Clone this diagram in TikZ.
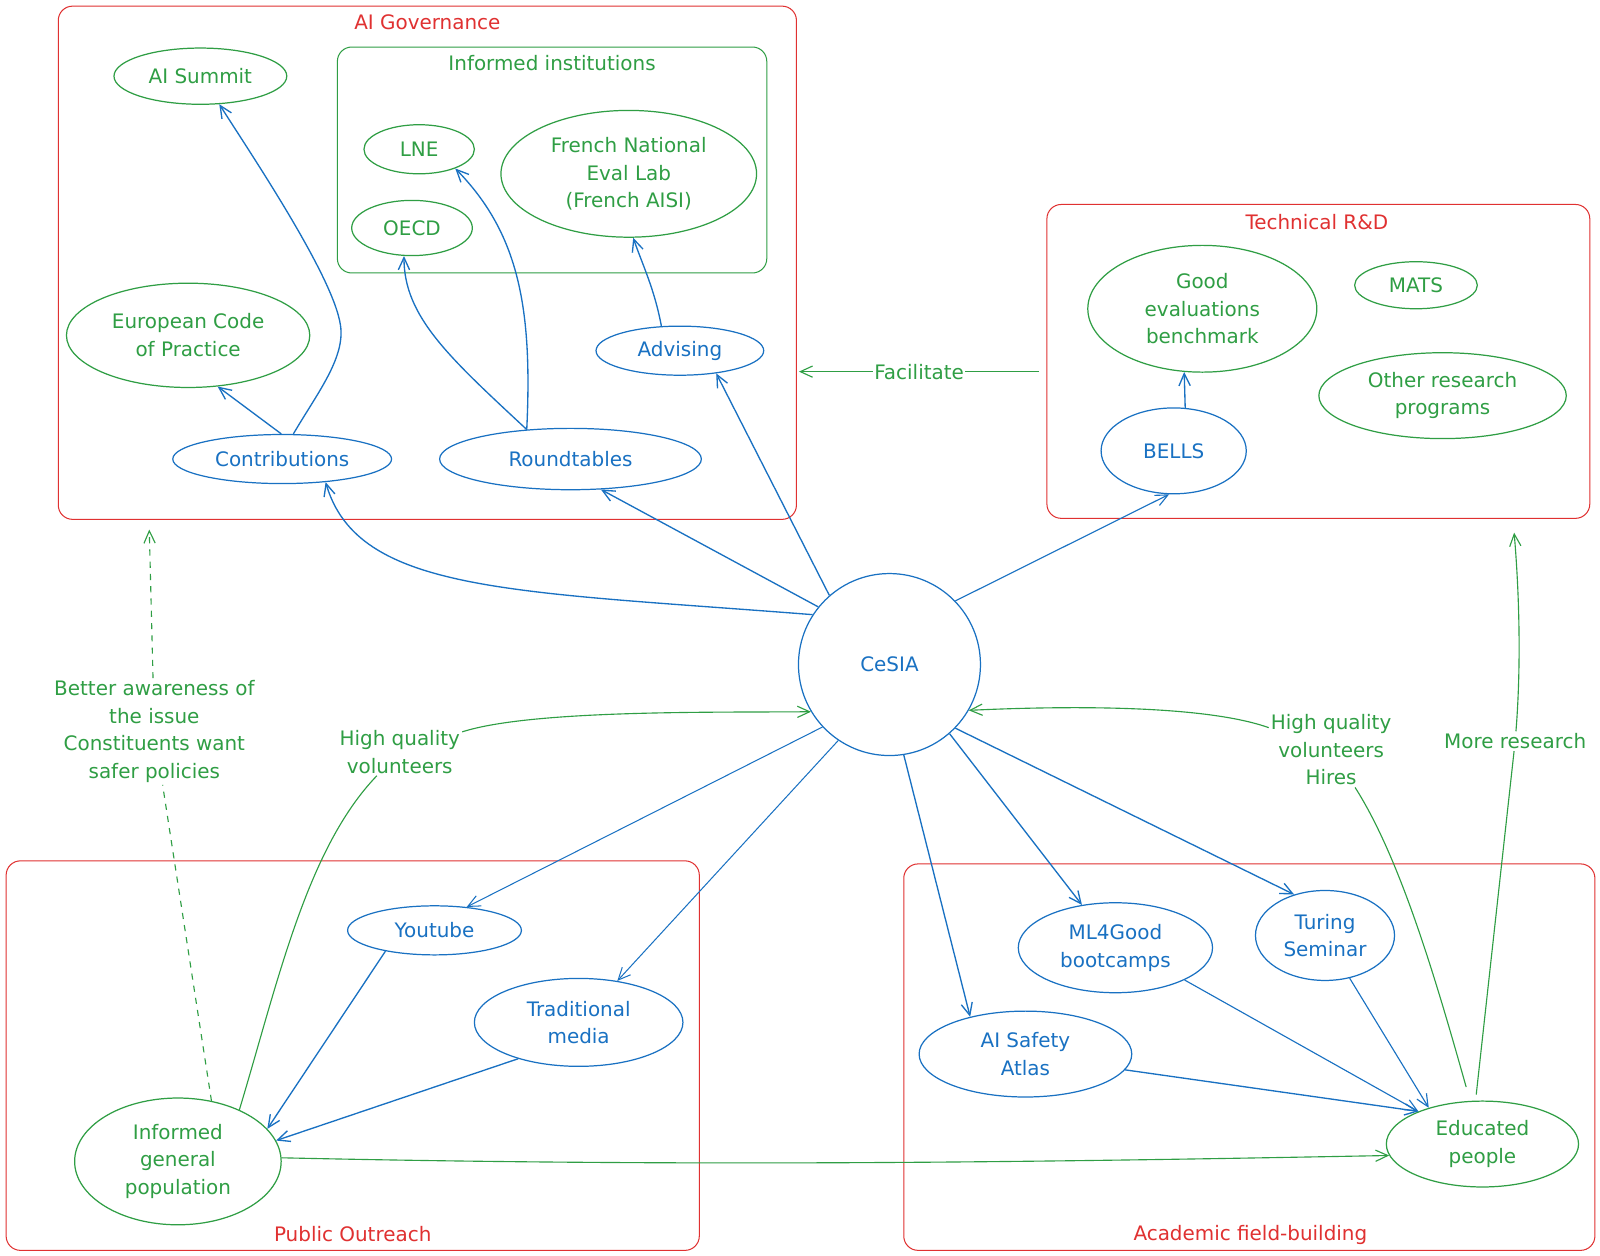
\documentclass[tikz,border=0pt]{standalone}
\usepackage{fontspec}
\setmainfont{DejaVu Sans}
\usetikzlibrary{shapes.geometric,arrows.meta,calc}
\definecolor{exred}{HTML}{E03131}
\definecolor{exgreen}{HTML}{2F9E44}
\definecolor{exblue}{HTML}{1971C2}
\begin{document}
\begin{tikzpicture}[x=1pt,y=-1pt,
  every node/.style={font=\fontsize{19.5}{27}\selectfont, align=center},
  region/.style={draw=exred, line width=1pt, rounded corners=14pt, inner sep=0pt},
  instbox/.style={draw=exgreen, line width=1pt, rounded corners=14pt, inner sep=0pt},
  regtitle/.style={text=exred, inner sep=1pt},
  gnode/.style={ellipse, draw=exgreen, text=exgreen, line width=1.2pt, inner sep=0pt},
  bnode/.style={ellipse, draw=exblue, text=exblue, line width=1.2pt, inner sep=0pt},
  glabel/.style={text=exgreen, inner sep=2pt},
  opentip/.style={-{Straight Barb[length=12pt,width=11pt]}},
  barrow/.style={draw=exblue, line width=1.3pt, opentip},
  garrow/.style={draw=exgreen, line width=1.1pt, opentip},
  gline/.style={draw=exgreen, line width=1.1pt},
  gdash/.style={draw=exgreen, line width=1.1pt, dash pattern=on 6pt off 6pt},
]
\fill[white] (0,0) rectangle (1565,1228);
\useasboundingbox (0,0) rectangle (1565,1228);

% regions
\node[region, minimum width=722, minimum height=502] (gov) at (418,257) {};
\node[regtitle] (govt) at (418,22) {AI Governance};
\node[instbox, minimum width=420, minimum height=221] (inst) at (540,156.5) {};
\node[glabel] (instt) at (540,62) {Informed institutions};
\node[region, minimum width=531, minimum height=307] (tech) at (1289.5,353.5) {};
\node[regtitle] (techt) at (1288,217) {Technical R\&D};
\node[region, minimum width=678, minimum height=381] (pub) at (345,1032.5) {};
\node[regtitle] (pubt) at (345,1207) {Public Outreach};
\node[region, minimum width=676, minimum height=378] (acad) at (1222,1034) {};
\node[regtitle] (acadt) at (1223,1208) {Academic field-building};

% AI governance nodes
\node[gnode, minimum width=169, minimum height=55] (summit) at (196,74.5) {AI Summit};
\node[gnode, minimum width=108, minimum height=48] (lne) at (410,146) {LNE};
\node[gnode, minimum width=118, minimum height=54] (oecd) at (403,223) {OECD};
\node[gnode, minimum width=250, minimum height=124] (french) at (615,170) {French National\\Eval Lab\\(French AISI)};
\node[gnode, minimum width=238, minimum height=102] (euro) at (184,328) {European Code\\of Practice};
\node[bnode, minimum width=164, minimum height=48] (adv) at (665,343) {Advising};
\node[bnode, minimum width=214, minimum height=48] (contrib) at (276,449) {Contributions};
\node[bnode, minimum width=256, minimum height=60] (round) at (558,449) {Roundtables};

% centre
\node[circle, draw=exblue, text=exblue, line width=1.2pt, minimum size=178, inner sep=0pt] (cesia) at (870,650) {CeSIA};

% technical R&D nodes
\node[gnode, minimum width=224, minimum height=124] (good) at (1176,302) {Good\\evaluations\\benchmark};
\node[gnode, minimum width=120, minimum height=46] (mats) at (1385,279) {MATS};
\node[gnode, minimum width=242, minimum height=84] (other) at (1411,387) {Other research\\programs};
\node[bnode, minimum width=142, minimum height=84] (bells) at (1148,441) {BELLS};

% public outreach nodes
\node[bnode, minimum width=170, minimum height=48] (youtube) at (425,910) {Youtube};
\node[bnode, minimum width=204, minimum height=86] (trad) at (566,1000) {Traditional\\media};
\node[gnode, minimum width=202, minimum height=124] (pop) at (174,1136) {Informed\\general\\population};

% academic nodes
\node[bnode, minimum width=190, minimum height=88] (ml4) at (1091,927) {ML4Good\\bootcamps};
\node[bnode, minimum width=136, minimum height=88] (turing) at (1296,915) {Turing\\Seminar};
\node[bnode, minimum width=208, minimum height=84] (atlas) at (1003,1031) {AI Safety\\Atlas};
\node[gnode, minimum width=188, minimum height=84] (edu) at (1450,1119) {Educated\\people};

% free labels
\node[glabel] (aware) at (151,715.5) {Better awareness of\\the issue\\Constituents want\\safer policies};
\node[glabel] (hqvl) at (391,735.5) {High quality\\volunteers};
\node[glabel] (hqvr) at (1302,733.5) {High quality\\volunteers\\Hires};
\node[glabel] (more) at (1482,725) {More research};

\coordinate (awtip) at (146,518);
\coordinate (moretip) at (1481,521);
\coordinate (facR) at ($(tech.west)+(-7,10)$);
\coordinate (facL) at ($(gov.east |- facR)+(2,0)$);

% governance connectors
\draw[barrow] (contrib.66) .. controls (310,385) and (338,350) .. (333,318)
  .. controls (326,270) and (245,150) .. (summit.-56);
\draw[barrow] (contrib.92) -- (euro.-60);
\draw[barrow] (round.146) .. controls (440,350) and (395,310) .. (oecd.-106);
\draw[barrow] (round.146) .. controls (521,300) and (507,228) .. (lne.-28);
\draw[barrow] (adv.127) .. controls (640,282) and (628,258) .. (french.-86);

% from CeSIA
\draw[barrow] (cesia.131) -- (adv.-32);
\draw[barrow] (cesia.141) -- (round.-45);
\draw[barrow] (cesia.147) .. controls (500,578) and (350,580) .. (contrib.-28);
\draw[barrow, line width=1.1pt] (cesia.44) -- (bells.-96);
\draw[barrow, line width=1pt] (cesia.223) -- (youtube.36);
\draw[barrow, line width=1pt] (cesia.236) -- (trad.47);
\draw[barrow] (cesia.-81) -- (atlas.146);
\draw[barrow] (cesia.-49) -- (ml4.128);
\draw[barrow] (cesia.-44) -- (turing.127);
\draw[barrow] (bells.75) -- (good.-106);

% outreach
\draw[barrow] (youtube.203) -- (pop.20);
\draw[barrow] (trad.211) -- (pop.12);
\draw[garrow] (pop.2) .. controls (700,1142) and (1050,1136) .. (edu.187);

% academic
\draw[barrow] (atlas.-9) -- (edu.153);
\draw[barrow, line width=1.1pt] (ml4.-25) -- (edu.153);
\draw[barrow, line width=1.1pt] (turing.-60) -- (edu.146);

% green feedback
\draw[garrow] (facR) -- node[glabel, fill=white, inner sep=1pt] (faclbl) {Facilitate} (facL);
\draw[gdash] (pop.61) -- (aware);
\draw[gdash, opentip] (aware) -- (awtip);
\draw[gline] (pop.40) .. controls (272,960) and (300,830) .. (hqvl);
\draw[garrow] (hqvl) .. controls (520,694) and (700,697) .. (cesia.211);
\draw[gline, shorten <=14pt] (edu.106) .. controls (1405,960) and (1370,840) .. (hqvr);
\draw[garrow] (hqvr) .. controls (1180,690) and (1050,690) .. (cesia.-30);
\draw[gline, shorten <=6pt] (edu.99) -- (more);
\draw[garrow] (more) .. controls (1488,650) and (1486,580) .. (moretip);
\end{tikzpicture}
\end{document}
